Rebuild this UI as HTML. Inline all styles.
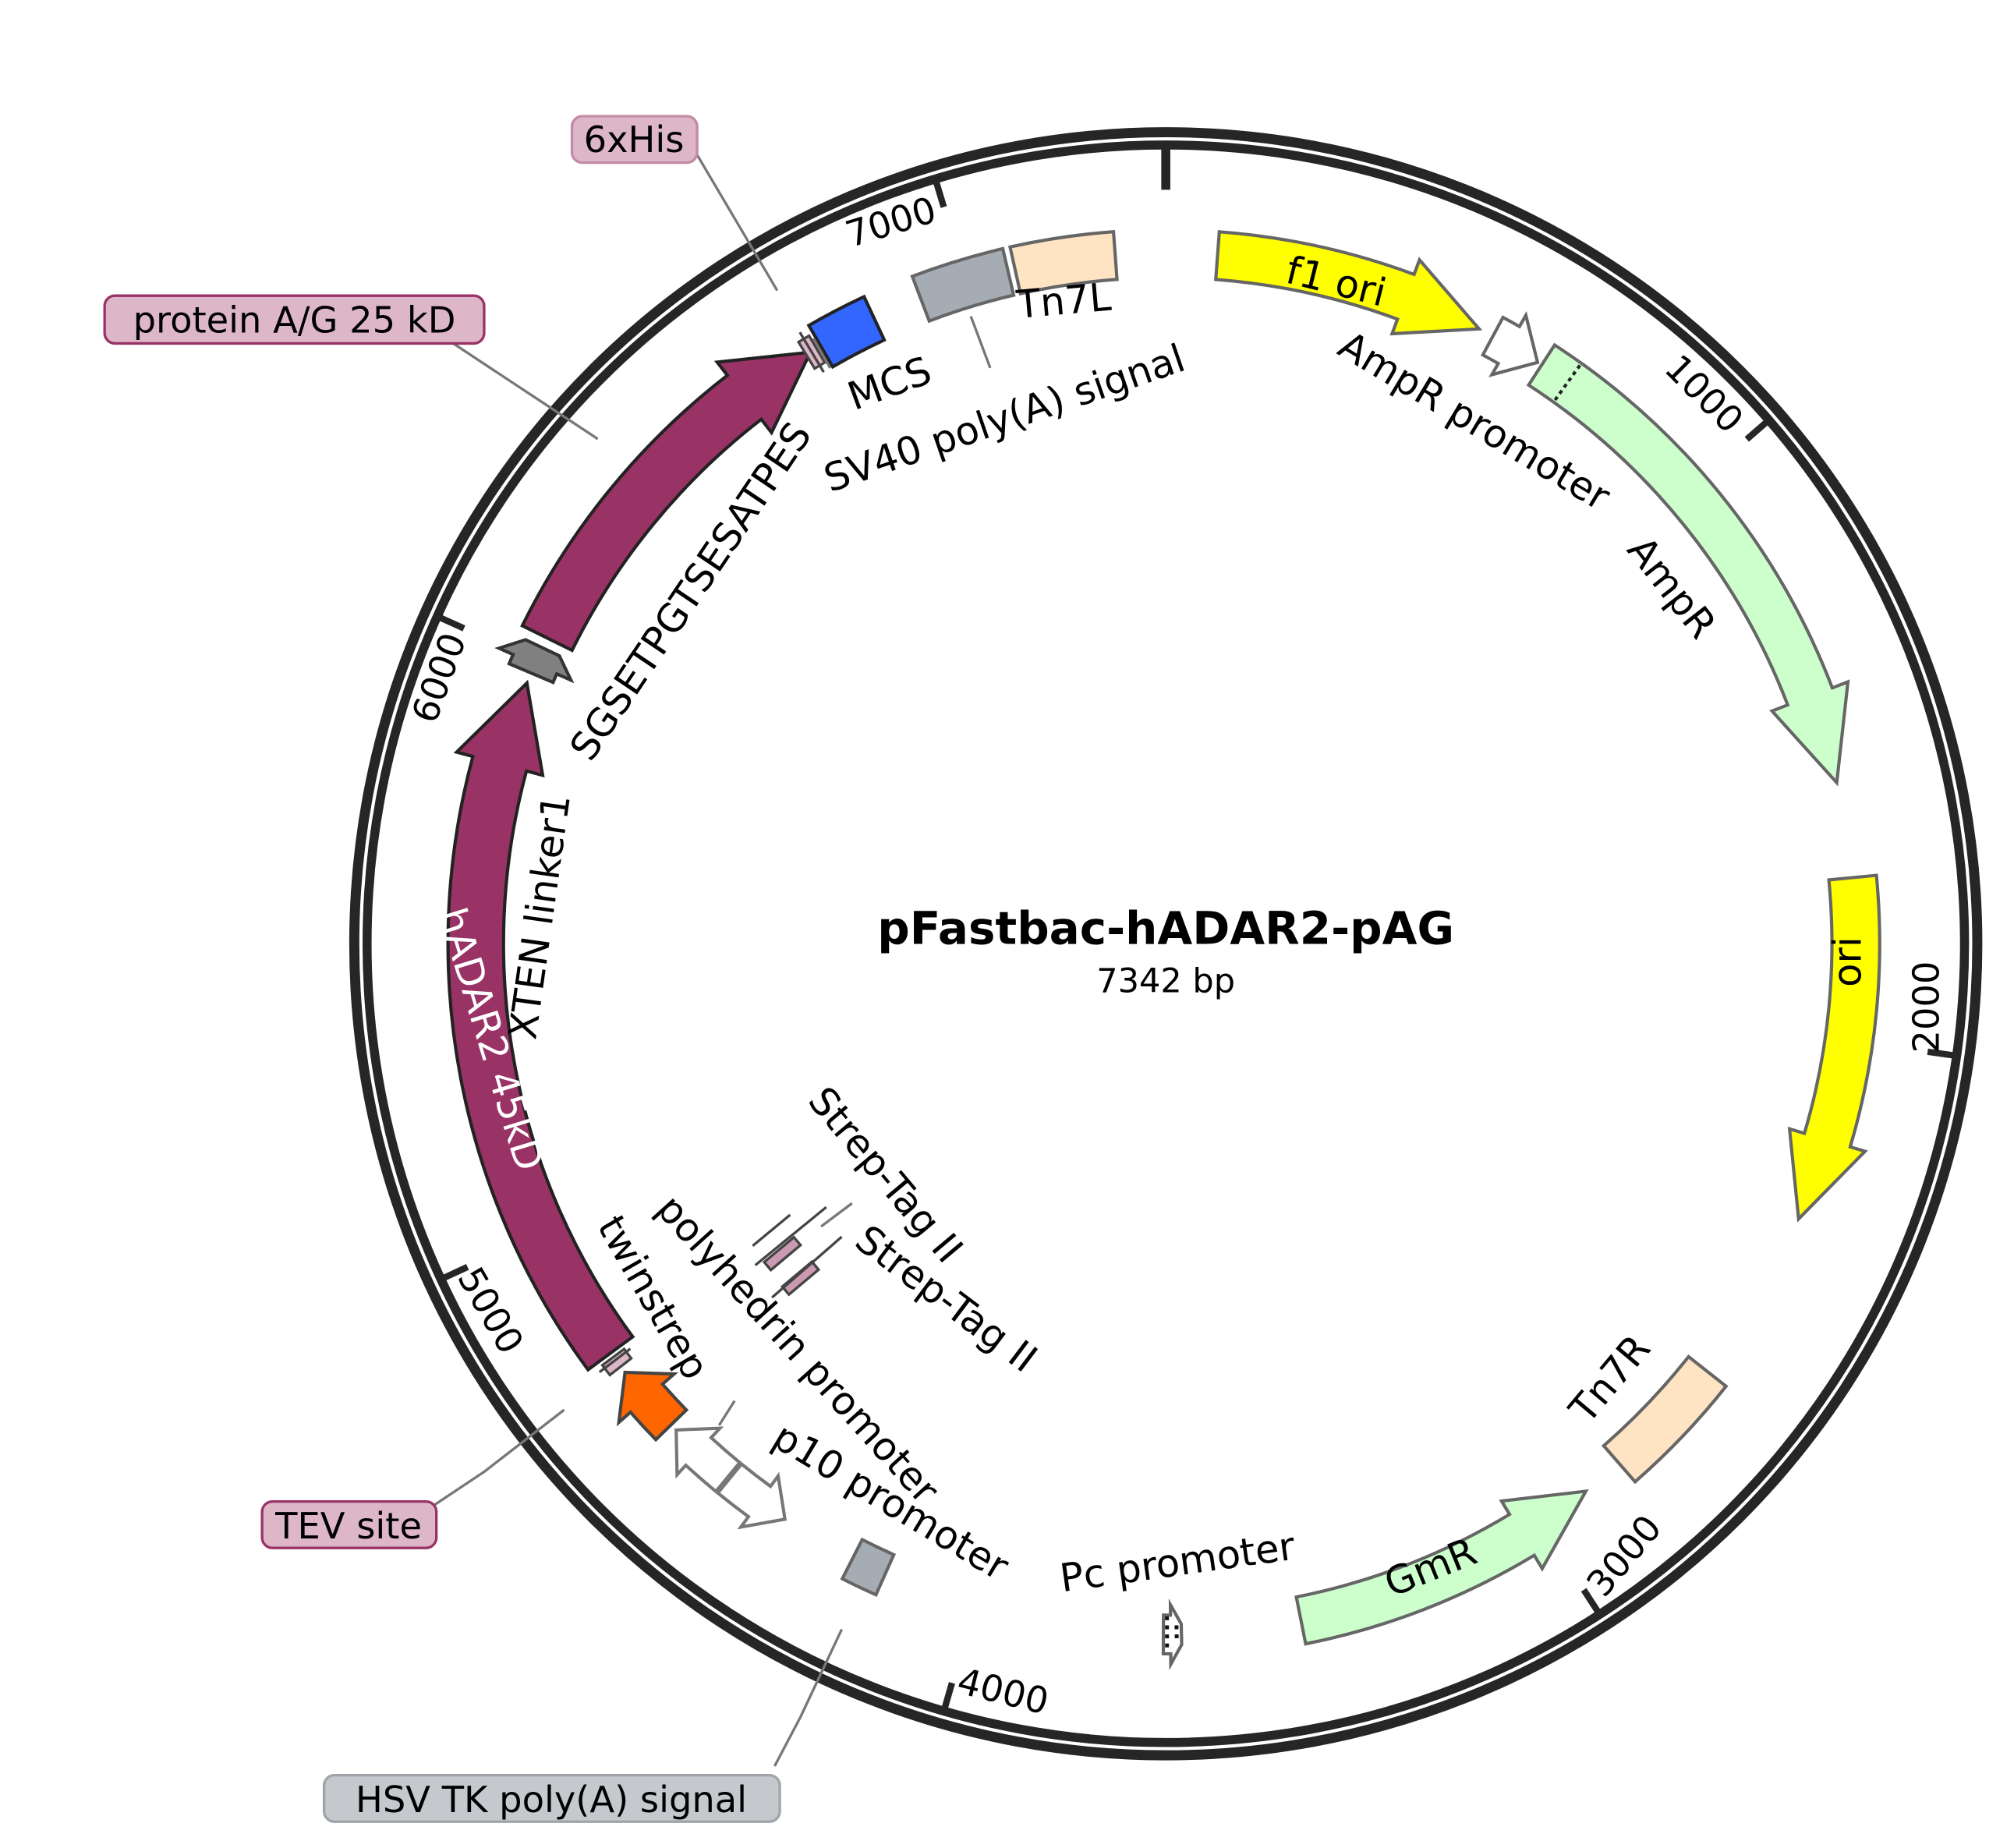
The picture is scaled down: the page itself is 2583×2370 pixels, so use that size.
<!DOCTYPE html>
<html><head><meta charset="utf-8">
<style>
html,body{margin:0;padding:0;background:#fff;}
svg{display:block;}
text{font-family:"DejaVu Sans","Liberation Sans",sans-serif;font-size:30px;fill:#000;}
.c{text-anchor:middle;dominant-baseline:central;}
.n{font-size:28px;}
</style></head><body>
<svg id="s" width="2583" height="2370" viewBox="0 0 1560 1431.4" xmlns="http://www.w3.org/2000/svg">
<rect x="0" y="0" width="1560" height="1432" fill="#fff"/>
<circle cx="903" cy="731" r="628.6" fill="none" stroke="#262626" stroke-width="7.8"/>
<circle cx="903" cy="731" r="618.7" fill="none" stroke="#262626" stroke-width="7"/>
<g id="shapes"></g>
<g stroke="#777" stroke-width="2" fill="none">
<polyline points="540,120 602,225"/>
<polyline points="345,262 463,340"/>
<polyline points="333,1168 375,1140 437,1092"/>
<polyline points="600,1368 620,1330 652,1262"/>
<polyline points="752,245 767,285"/>
<polyline points="630,262 643,285"/>
<polyline points="636,950 660,932"/>
<polyline points="569,1085 557,1104"/>
</g>
<g stroke-width="2">
<rect x="443" y="90" width="97" height="36" rx="8" fill="#ddb6c8" stroke="#c48aa5"/>
<rect x="81" y="229" width="294" height="37" rx="8" fill="#ddb6c8" stroke="#993366"/>
<rect x="203" y="1163" width="135" height="36" rx="8" fill="#ddb6c8" stroke="#993366"/>
<rect x="251" y="1375" width="353" height="36" rx="8" fill="#c5c8cc" stroke="#a0a4a8"/>
</g>
<text class="c" x="491" y="108" style="font-size:28px">6xHis</text>
<text class="c" x="228" y="248" style="font-size:28px">protein A/G 25 kD</text>
<text class="c" x="270" y="1182" style="font-size:28px">TEV site</text>
<text class="c" x="427" y="1394" style="font-size:28px">HSV TK poly(A) signal</text>
<text class="c" x="903" y="719" style="font-weight:bold;font-size:35px">pFastbac-hADAR2-pAG</text>
<text class="c" x="903" y="760" style="font-size:26px">7342 bp</text>
<text class="c n" x="690" y="172" transform="rotate(-17 690 172)">7000</text>
<text class="c n" x="1320" y="305" transform="rotate(45 1320 305)">1000</text>
<text class="c n" x="1492" y="780" transform="rotate(-90 1492 780)">2000</text>
<text class="c n" x="1258" y="1205" transform="rotate(-50 1258 1205)">3000</text>
<text class="c n" x="777" y="1310" transform="rotate(14 777 1310)">4000</text>
<text class="c n" x="380" y="1015" transform="rotate(60 380 1015)">5000</text>
<text class="c n" x="340" y="525" transform="rotate(-70 340 525)">6000</text>
<text class="c" x="1035" y="218" transform="rotate(14 1035 218)">f1 ori</text>
<text class="c" x="1142" y="326" transform="rotate(31 1142 326)">AmpR promoter</text>
<text class="c" x="1295" y="455" transform="rotate(52 1295 455)">AmpR</text>
<text class="c" x="1431" y="745" transform="rotate(-90 1431 745)">ori</text>
<text class="c" x="1247" y="1068" transform="rotate(-50 1247 1068)">Tn7R</text>
<text class="c" x="1108" y="1214" transform="rotate(-22 1108 1214)">GmR</text>
<text class="c" x="912" y="1210" transform="rotate(-8 912 1210)">Pc promoter</text>
<text class="c" x="690" y="1163" transform="rotate(31 690 1163)">p10 promoter</text>
<text class="c" x="618" y="1045" transform="rotate(48 618 1045)">polyhedrin promoter</text>
<text class="c" x="506" y="1005" transform="rotate(60 506 1005)">twinstrep</text>
<text class="c" x="686" y="910" transform="rotate(50 686 910)">Strep-Tag II</text>
<text class="c" x="733" y="1006" transform="rotate(37 733 1006)">Strep-Tag II</text>
<text class="c" x="380" y="805" transform="rotate(73 380 805)" style="fill:#fff">hADAR2 45kD</text>
<text class="c" x="418" y="710" transform="rotate(-82 418 710)">XTEN linker1</text>
<text class="c" x="535" y="458" transform="rotate(-56 535 458)">SGSETPGTSESATPES</text>
<text class="c" x="689" y="297" transform="rotate(-20 689 297)">MCS</text>
<text class="c" x="778" y="324" transform="rotate(-19 778 324)">SV40 poly(A) signal</text>
<text class="c" x="824" y="233" transform="rotate(-5 824 233)">Tn7L</text>
</svg>
<script>
(function(){
var cx=903,cy=731,g=document.getElementById('shapes'),NS='http://www.w3.org/2000/svg';
function P(r,a){a=a*Math.PI/180;return (cx+r*Math.sin(a)).toFixed(2)+','+(cy-r*Math.cos(a)).toFixed(2);}
function add(tag,attrs){var e=document.createElementNS(NS,tag);for(var k in attrs)e.setAttribute(k,attrs[k]);g.appendChild(e);return e;}
function block(a1,a2,ri,ro,fill,stroke,sw){
 var d='M'+P(ri,a1)+' L'+P(ro,a1)+' A'+ro+','+ro+' 0 0 1 '+P(ro,a2)+' L'+P(ri,a2)+' A'+ri+','+ri+' 0 0 0 '+P(ri,a1)+' Z';
 add('path',{d:d,fill:fill,stroke:stroke,'stroke-width':sw||2.5,'stroke-linejoin':'miter'});
}
function arrow(a1,a2,ri,ro,fill,stroke,dir,hl,fl,sw){
 var rm=(ri+ro)/2, hd=hl/rm*180/Math.PI, d;
 if(dir>0){var ah=a2-hd; var lg=(ah-a1)>180?1:0;
  d='M'+P(ri,a1)+' L'+P(ro,a1)+' A'+ro+','+ro+' 0 '+lg+' 1 '+P(ro,ah)+' L'+P(ro+fl,ah)+' L'+P(rm,a2)+' L'+P(ri-fl,ah)+' L'+P(ri,ah)+' A'+ri+','+ri+' 0 '+lg+' 0 '+P(ri,a1)+' Z';}
 else{var ah=a1+hd; var lg=(a2-ah)>180?1:0;
  d='M'+P(ri,a2)+' L'+P(ro,a2)+' A'+ro+','+ro+' 0 '+lg+' 0 '+P(ro,ah)+' L'+P(ro+fl,ah)+' L'+P(rm,a1)+' L'+P(ri-fl,ah)+' L'+P(ri,ah)+' A'+ri+','+ri+' 0 '+lg+' 1 '+P(ri,a2)+' Z';}
 add('path',{d:d,fill:fill,stroke:stroke,'stroke-width':sw||2.5,'stroke-linejoin':'miter'});
}
function poly(pts,fill,stroke,sw){add('path',{d:'M'+pts.join(' L')+' Z',fill:fill,stroke:stroke,'stroke-width':sw||2.5,'stroke-linejoin':'miter'});}
function line(r1,r2,a,st,w,dash){var p1=P(r1,a).split(','),p2=P(r2,a).split(',');var e=add('line',{x1:p1[0],y1:p1[1],x2:p2[0],y2:p2[1],stroke:st,'stroke-width':w});if(dash)e.setAttribute('stroke-dasharray',dash);}
line(616,584,0,'#262626',7);
for(var k=1;k<=7;k++){line(616,596,k*1000/7342*360,'#262626',5);}
var G='#666';
arrow(4.3,27,516,553,'#ffff00',G,1,62,12);
arrow(28.3,32.6,518,551,'#fff',G,1,26,10);
arrow(33,76.5,516,553,'#ccffcc',G,1,70,13);
line(518,551,35.6,'#222',2.5,'3,3');
arrow(84.5,113.5,516,553,'#ffff00',G,1,65,12);
block(128.3,138.9,516,553,'#ffe4c4',G);
arrow(142.5,168.7,516,553,'#ccffcc',G,-1,60,12);
poly([P(520,180.2),P(550,180.2),P(550,179.6),P(558,179.6),P(543,178.7),P(527,178.7),P(512,179.6),P(520,179.6)],'#fff','#666',2.5);
line(521,549,179.9,'#111',3,'3,4');
line(528,542,179.1,'#111',3,'3,4');
block(204,207,518,552,'#a6acb3',G);
arrow(213.5,219.2,520,549,'#fff','#777',-1,24,10);
arrow(219.4,225.2,520,549,'#fff','#777',1,24,10);
arrow(225.8,231.6,518,551,'#ff6600','#444',1,26,12);
block(232.2,233.2,524,545,'#ddb6c8','#444',2);
line(520,550,232.9,'#444',2);
arrow(233.6,292.2,513,556,'#993366','#222',1,66,13);
poly([P(516,293.1),P(553,293.1),P(553,293.9),P(565,293.9),P(549,295.4),P(520,295.4),P(504,293.9),P(516,293.9)],'#808080','#333',2.5);
arrow(296.3,329,513,556,'#993366','#222',1,62,13);
block(328.6,329.6,522,546,'#ddb6c8','#444',2);
line(516,552,329.1,'#444',2);
block(330,335,516,553,'#3366ff','#222');
block(339.2,346.8,516,553,'#a6acb3',G);
block(347.4,355.8,516,553,'#ffe4c4',G);
function rect(x,y,w,h,rot){add('rect',{x:x-w/2,y:y-h/2,width:w,height:h,fill:'#cc99b3',stroke:'#444','stroke-width':2,transform:'rotate('+rot+' '+x+' '+y+')'});}
rect(606,971,30,8,-40);rect(620,990,30,8,-40);
[[585,980,640,935],[598,1005,652,958],[583,965,612,941]].forEach(function(l){add('line',{x1:l[0],y1:l[1],x2:l[2],y2:l[3],stroke:'#444','stroke-width':2});});
})();
</script>
</body></html>
